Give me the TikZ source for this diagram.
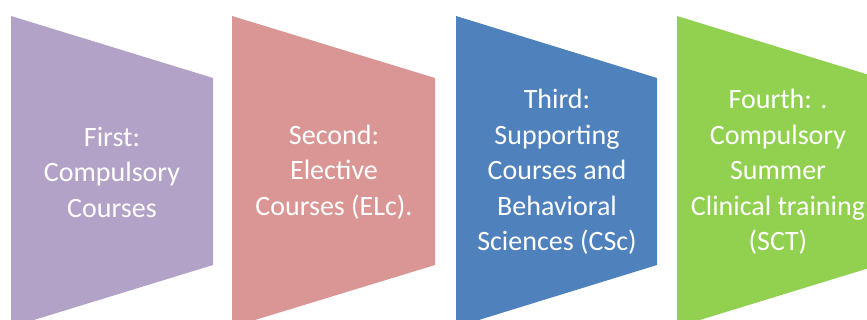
\documentclass[tikz,border=0pt]{standalone}
\usepackage{fontspec}
\setmainfont{Carlito}
\definecolor{cpurple}{HTML}{B3A2C7}
\definecolor{cpink}{HTML}{D99694}
\definecolor{cblue}{HTML}{4F81BD}
\definecolor{cgreen}{HTML}{92D050}
\begin{document}
\begin{tikzpicture}[x=1pt,y=-1pt,
  lbl/.style={text=white,align=center,inner sep=0pt,font=\fontsize{28}{35.5}\selectfont}]
\useasboundingbox[fill=white] (0,0) rectangle (867,320);
\begin{scope}
\clip (0,0) rectangle (867,320);
\fill[cpurple] (11,16) -- (213,78) -- (213,265) -- (11,327) -- cycle;
\fill[cpink] (232,16) -- (435,78) -- (435,265) -- (232,327) -- cycle;
\fill[cblue] (456,16) -- (657,78) -- (657,265) -- (456,327) -- cycle;
\fill[cgreen] (677,16) -- (879,78) -- (879,265) -- (677,327) -- cycle;
\end{scope}
\node[lbl] (t1) at (112,172) {First:\\Compulsory\\Courses};
\node[lbl] (t2) at (334,172) {Second:\\Elective\\Courses (ELc).};
\node[lbl] (t3) at (557,172) {Third:\\Supporting\\Courses and\\Behavioral\\Sciences (CSc)};
\node[lbl] (t4) at (778,172) {Fourth: .\\Compulsory\\Summer\\Clinical training\\(SCT)};
\end{tikzpicture}
\end{document}
